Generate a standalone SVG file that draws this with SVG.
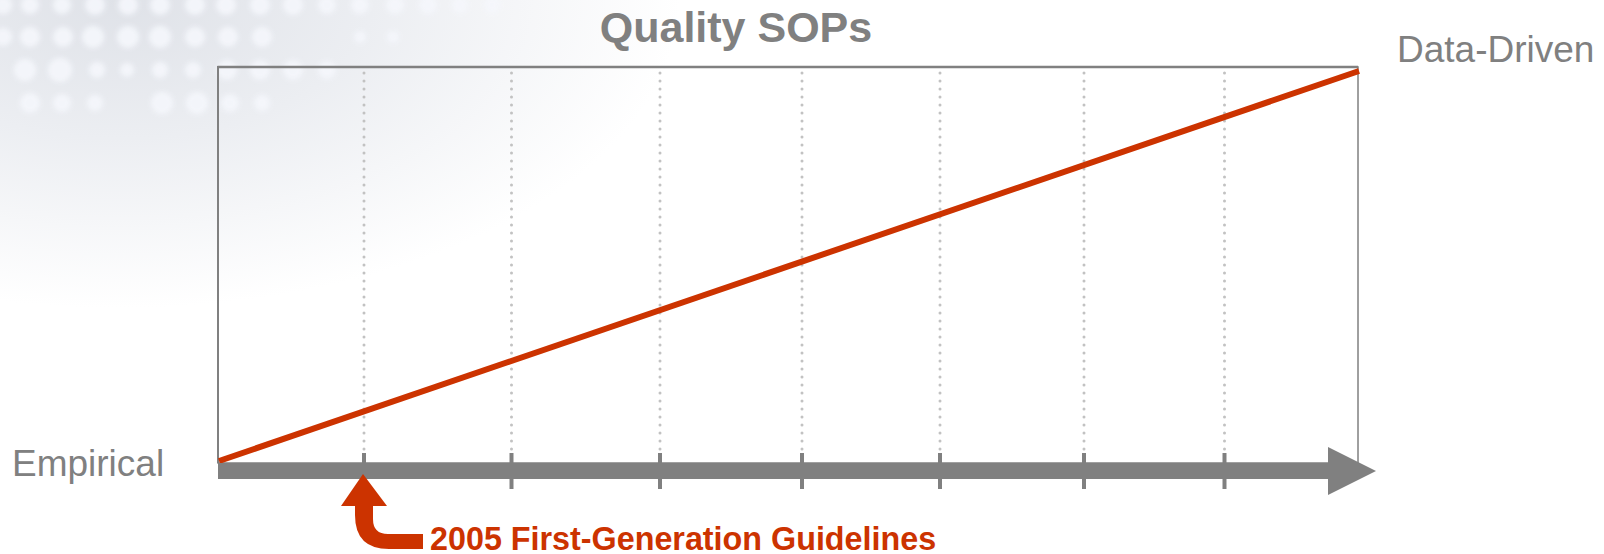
<svg xmlns="http://www.w3.org/2000/svg" width="1604" height="554" viewBox="0 0 1604 554">
  <defs>
    <radialGradient id="bgGrad" cx="120" cy="0" r="560" gradientUnits="userSpaceOnUse" gradientTransform="translate(120 0) scale(1 0.55) translate(-120 0)">
      <stop offset="0" stop-color="#dfe2e8"/>
      <stop offset="0.45" stop-color="#eceef2"/>
      <stop offset="1" stop-color="#ffffff"/>
    </radialGradient>
    <filter id="soft" x="-20%" y="-20%" width="140%" height="140%">
      <feGaussianBlur stdDeviation="2.5"/>
    </filter>
  </defs>
  <style>
    .lbl { font-family: "Liberation Sans", Arial, sans-serif; fill: #808080; }
    .title { font-weight: bold; font-size: 43px; }
    .end { font-size: 37px; }
    .note { font-family: "Liberation Sans", Arial, sans-serif; font-weight: bold; font-size: 32.3px; fill: #cc3300; }
    .grid { stroke: #c2c2c2; stroke-width: 3; stroke-linecap: round; stroke-dasharray: 0.1 7.9; fill: none; }
    .tick { stroke: #808080; stroke-width: 4; }
    .dot { fill: #f5f7fc; }
  </style>

  <g id="background">
    <rect x="0" y="0" width="1604" height="554" fill="#ffffff"/>
    <rect x="0" y="0" width="700" height="320" fill="url(#bgGrad)"/>
    <g filter="url(#soft)" opacity="0.9">
      <g class="dot">
        <circle cx="3" cy="5" r="9"/><circle cx="30" cy="5" r="9"/><circle cx="62" cy="5" r="9"/><circle cx="95" cy="5" r="10"/>
        <circle cx="128" cy="5" r="10"/><circle cx="160" cy="5" r="10"/><circle cx="195" cy="5" r="10"/><circle cx="226" cy="5" r="10"/>
        <circle cx="260" cy="5" r="10"/><circle cx="293" cy="5" r="10"/><circle cx="327" cy="5" r="9"/><circle cx="360" cy="5" r="9"/>
        <circle cx="395" cy="5" r="9"/><circle cx="428" cy="5" r="9"/><circle cx="460" cy="5" r="8"/><circle cx="492" cy="5" r="8"/>
        <circle cx="3" cy="37" r="9"/><circle cx="30" cy="37" r="10"/><circle cx="63" cy="37" r="10"/><circle cx="93" cy="37" r="11"/>
        <circle cx="128" cy="37" r="11"/><circle cx="160" cy="37" r="11"/><circle cx="195" cy="37" r="10"/><circle cx="228" cy="37" r="10"/>
        <circle cx="262" cy="37" r="10"/><circle cx="360" cy="37" r="6"/><circle cx="393" cy="37" r="6"/>
        <circle cx="25" cy="70" r="11"/><circle cx="60" cy="70" r="12"/><circle cx="97" cy="70" r="8"/><circle cx="127" cy="70" r="7"/>
        <circle cx="160" cy="70" r="8"/><circle cx="193" cy="70" r="8"/><circle cx="227" cy="70" r="10"/><circle cx="260" cy="70" r="10"/>
        <circle cx="293" cy="70" r="10"/><circle cx="327" cy="70" r="9"/>
        <circle cx="30" cy="103" r="10"/><circle cx="62" cy="103" r="9"/><circle cx="95" cy="103" r="8"/><circle cx="162" cy="103" r="11"/>
        <circle cx="197" cy="103" r="11"/><circle cx="230" cy="103" r="9"/><circle cx="262" cy="103" r="8"/>
      </g>
    </g>
  </g>

  <g id="chart-frame">
    <rect x="218" y="67" width="1140" height="396" fill="none" stroke="#808080" stroke-width="1.5"/>
    <line x1="217.5" y1="67" x2="1358" y2="67" stroke="#808080" stroke-width="2.5"/>
    <line x1="218" y1="66" x2="218" y2="463" stroke="#808080" stroke-width="2"/>
  </g>

  <g id="gridlines">
    <line class="grid" x1="364" y1="73" x2="364" y2="461"/>
    <line class="grid" x1="511.5" y1="73" x2="511.5" y2="461"/>
    <line class="grid" x1="660" y1="73" x2="660" y2="461"/>
    <line class="grid" x1="802" y1="73" x2="802" y2="461"/>
    <line class="grid" x1="940" y1="73" x2="940" y2="461"/>
    <line class="grid" x1="1084" y1="73" x2="1084" y2="461"/>
    <line class="grid" x1="1224.5" y1="73" x2="1224.5" y2="461"/>
  </g>

  <g id="connectors">
    <line id="trend-line" x1="219" y1="461" x2="1359" y2="71" stroke="#cc3300" stroke-width="6"/>
  </g>

  <g id="time-axis">
    <rect x="218" y="463" width="1112" height="16" fill="#808080"/>
    <polygon points="1328,447 1376,471 1328,495" fill="#808080"/>
    <line class="tick" x1="364" y1="453" x2="364" y2="489"/>
    <line class="tick" x1="511.5" y1="453" x2="511.5" y2="489"/>
    <line class="tick" x1="660" y1="453" x2="660" y2="489"/>
    <line class="tick" x1="802" y1="453" x2="802" y2="489"/>
    <line class="tick" x1="940" y1="453" x2="940" y2="489"/>
    <line class="tick" x1="1084" y1="453" x2="1084" y2="489"/>
    <line class="tick" x1="1224.5" y1="453" x2="1224.5" y2="489"/>
  </g>

  <g id="title">
    <text class="lbl title" x="736" y="42" text-anchor="middle">Quality SOPs</text>
  </g>

  <g id="label-data-driven">
    <text class="lbl end" x="1397" y="62">Data-Driven</text>
  </g>

  <g id="label-empirical">
    <text class="lbl end" x="12" y="476">Empirical</text>
  </g>

  <g id="marker-2005">
    <path d="M363,474 L387,506 L373,506 L373,519 Q373,534 388,534 L423,534 L423,549 L389,549 Q355,549 355,515 L355,506 L341,506 Z" fill="#cc3300"/>
    <text class="note" x="430" y="550">2005 First-Generation Guidelines</text>
  </g>
</svg>
